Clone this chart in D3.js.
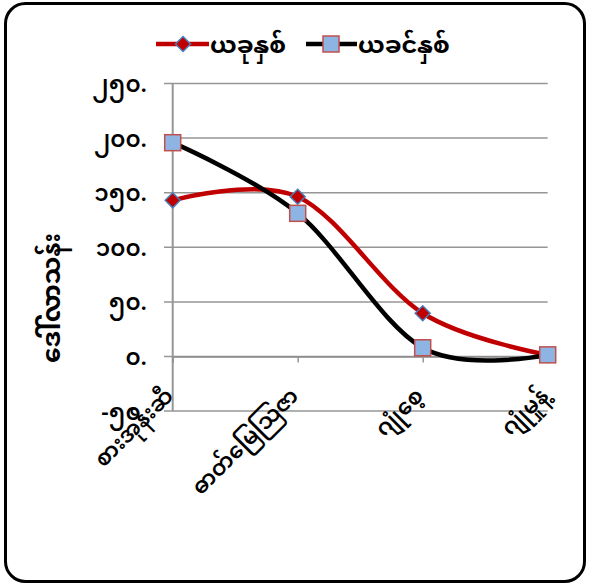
<!DOCTYPE html>
<html><head><meta charset="utf-8">
<script src="https://cdn.jsdelivr.net/npm/d3@7"></script>
<style>
html,body{margin:0;padding:0;background:#fff;}
svg text{font-family:"Noto Sans Myanmar","Padauk","Myanmar Text","Noto Sans",sans-serif;}
</style></head>
<body><svg id="c" width="589" height="586"></svg>
<script>
const categories = ["စားအုန်းဆီ", "ဓာတ်မြေဩဇာ", "ဂျုံစေ့", "ဂျုံမှုန့်"];
const seriesNames = ["ယခုနှစ်", "ယခင်နှစ်"];
const thisYear = [143, 146.3, 39.6, 1.5];
const lastYear = [195.8, 131.1, 8, 1.5];
const tickValues = [-50, 0, 50, 100, 150, 200, 250];
const tickLabels = ["-၅၀.", "၀.", "၅၀.", "၁၀၀.", "၁၅၀.", "၂၀၀.", "၂၅၀."];
const yTitle = "ဒေါ်လာသန်း";

const svg = d3.select("#c");
svg.append("rect").attr("x",5.5).attr("y",3.5).attr("width",579).attr("height",578)
  .attr("rx",20).attr("fill","#fff").attr("stroke","#000").attr("stroke-width",3);

const x = d3.scalePoint().domain(categories).range([172.7, 547.7]);
const y = d3.scaleLinear().domain([-50, 250]).range([411.1, 83.5]);

// gridlines
svg.append("g").selectAll("line").data(tickValues).join("line")
  .attr("x1",164).attr("x2",547.7).attr("y1",d=>y(d)).attr("y2",d=>y(d))
  .attr("stroke","#969696").attr("stroke-width",1.5);

// y axis labels
const yAxis = d3.axisLeft(y).tickValues(tickValues).tickSize(0)
  .tickFormat((d,i)=>tickLabels[i]);
const gy = svg.append("g").attr("transform","translate(150,0)").call(yAxis);
gy.select(".domain").remove();
gy.selectAll("text").attr("font-size",23).attr("font-weight",600).attr("fill","#000")
  .attr("dy","0.35em").attr("x",-3);

// vertical axis line
svg.append("line").attr("x1",x(categories[0])).attr("x2",x(categories[0]))
  .attr("y1",y(250)).attr("y2",y(-50)).attr("stroke","#969696").attr("stroke-width",2);

// category axis at zero
const xAxis = d3.axisBottom(x).tickSize(6).tickFormat("");
const gx = svg.append("g").attr("transform",`translate(0,${y(0)})`).call(xAxis);
gx.select(".domain").attr("stroke","#8a8a8a").attr("stroke-width",1.5);
gx.selectAll(".tick line").attr("stroke","#969696").attr("stroke-width",1.5);

// category labels
svg.append("g").selectAll("text").data(categories).join("text")
  .attr("transform",d=>`translate(${x(d)+2},${y(-50)-14}) rotate(-45)`)
  .attr("text-anchor","end").attr("font-size",22).attr("font-weight",600)
  .attr("fill","#000").text(d=>d);

// y title
svg.append("text").attr("transform","translate(60,298) rotate(-90)")
  .attr("text-anchor","middle").attr("font-size",25).attr("font-weight","bold").text(yTitle);

const line = d3.line().x((d,i)=>x(categories[i])).y(d=>y(d)).curve(d3.curveCatmullRom.alpha(0));

svg.append("path").datum(thisYear).attr("d",line).attr("fill","none")
  .attr("stroke","#c00000").attr("stroke-width",4.5).attr("stroke-linejoin","round");
svg.append("path").datum(lastYear).attr("d",line).attr("fill","none")
  .attr("stroke","#000").attr("stroke-width",4.5).attr("stroke-linejoin","round");

const diamond = s => `M0,${-s}L${s},0L0,${s}L${-s},0Z`;
svg.append("g").selectAll("path").data(thisYear).join("path")
  .attr("transform",(d,i)=>`translate(${x(categories[i])},${y(d)})`)
  .attr("d",diamond(7.5)).attr("fill","#c00000").attr("stroke","#4a7ebb").attr("stroke-width",1.5);
svg.append("g").selectAll("rect").data(lastYear).join("rect")
  .attr("x",(d,i)=>x(categories[i])-8).attr("y",d=>y(d)-8).attr("width",16).attr("height",16)
  .attr("fill","#8eb4e3").attr("stroke","#c0504d").attr("stroke-width",1.5);

// legend
const lg = svg.append("g");
lg.append("line").attr("x1",156).attr("x2",209).attr("y1",44).attr("y2",44).attr("stroke","#c00000").attr("stroke-width",4.5);
lg.append("path").attr("transform","translate(183,44)").attr("d",diamond(7.5)).attr("fill","#c00000").attr("stroke","#4a7ebb").attr("stroke-width",1.5);
lg.append("text").attr("x",210).attr("y",53).attr("font-size",24).attr("font-weight","bold").text(seriesNames[0]);
lg.append("line").attr("x1",306).attr("x2",357).attr("y1",44).attr("y2",44).attr("stroke","#000").attr("stroke-width",4.5);
lg.append("rect").attr("x",323).attr("y",36).attr("width",16).attr("height",16).attr("fill","#8eb4e3").attr("stroke","#c0504d").attr("stroke-width",1.5);
lg.append("text").attr("x",358).attr("y",53).attr("font-size",24).attr("font-weight","bold").text(seriesNames[1]);
</script></body></html>
